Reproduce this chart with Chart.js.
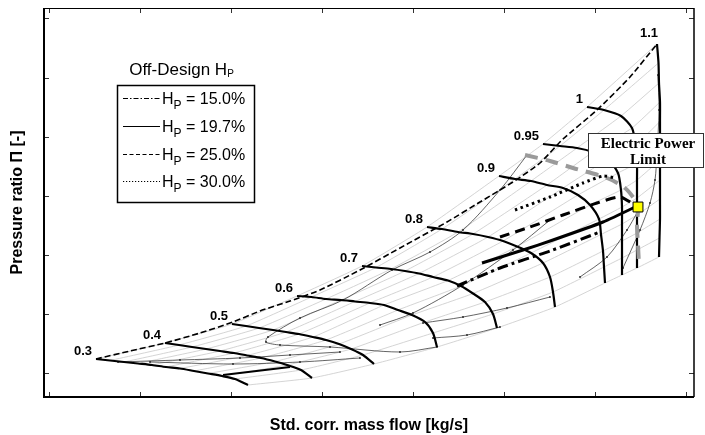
<!DOCTYPE html>
<html>
<head>
<meta charset="utf-8">
<script src="https://cdn.jsdelivr.net/npm/chart.js@4.4.1/dist/chart.umd.min.js"></script>
<style>
  html, body { margin: 0; padding: 0; background: #fff; }
  #wrap { width: 705px; height: 435px; }
</style>
</head>
<body>
<div id="wrap"><canvas id="mapa" width="705" height="435"></canvas></div>
<script>
const speedNames = ['0.3', '0.4', '0.5', '0.6', '0.7', '0.8', '0.9', '0.95', '1', '1.1'];

const speed_030 = [[0.52,1.38],[0.66,1.365],[0.80,1.35],[0.94,1.335],[1.08,1.32],[1.22,1.30],[1.36,1.285],[1.50,1.26],[1.64,1.235],[1.78,1.21],[1.91,1.18],[2.04,1.12]];
const speed_040 = [[1.21,1.54],[1.35,1.52],[1.48,1.50],[1.62,1.48],[1.76,1.46],[1.90,1.44],[2.03,1.415],[2.17,1.39],[2.31,1.355],[2.43,1.32],[2.57,1.27],[2.68,1.19]];
const speed_050 = [[1.88,1.73],[2.02,1.71],[2.15,1.69],[2.29,1.67],[2.42,1.65],[2.55,1.63],[2.69,1.60],[2.82,1.57],[2.95,1.53],[3.07,1.48],[3.19,1.42],[3.30,1.33]];
const speed_060 = [[2.53,2.01],[2.675,2.00],[2.82,1.98],[2.97,1.97],[3.11,1.955],[3.26,1.94],[3.40,1.92],[3.54,1.87],[3.68,1.82],[3.81,1.75],[3.89,1.64],[3.93,1.50]];
const speed_070 = [[3.18,2.31],[3.32,2.295],[3.47,2.28],[3.61,2.26],[3.75,2.235],[3.89,2.20],[4.04,2.165],[4.17,2.11],[4.29,2.035],[4.41,1.95],[4.49,1.83],[4.53,1.69]];
const speed_080 = [[3.83,2.70],[3.98,2.68],[4.14,2.65],[4.29,2.63],[4.44,2.60],[4.59,2.56],[4.73,2.505],[4.87,2.44],[4.99,2.34],[5.06,2.20],[5.09,2.05],[5.11,1.90]];
const speed_090 = [[4.55,3.21],[4.71,3.18],[4.87,3.16],[5.03,3.12],[5.19,3.09],[5.34,3.02],[5.46,2.92],[5.55,2.78],[5.57,2.625],[5.59,2.46],[5.60,2.30],[5.61,2.14]];
const speed_095 = [[4.99,3.53],[5.16,3.51],[5.33,3.49],[5.49,3.45],[5.64,3.38],[5.74,3.24],[5.77,3.07],[5.78,2.90],[5.78,2.73],[5.78,2.56],[5.78,2.39],[5.78,2.22]];
const speed_100 = [[5.43,3.90],[5.60,3.87],[5.77,3.81],[5.88,3.69],[5.915,3.52],[5.93,3.34],[5.93,3.17],[5.93,2.99],[5.93,2.82],[5.93,2.64],[5.93,2.47],[5.93,2.29]];
const speed_110 = [[6.13,4.53],[6.145,4.34],[6.15,4.14],[6.16,3.95],[6.16,3.755],[6.16,3.56],[6.16,3.37],[6.16,3.17],[6.16,2.98],[6.16,2.78],[6.155,2.59],[6.15,2.40]];
const speedLines = [speed_030, speed_040, speed_050, speed_060, speed_070, speed_080, speed_090, speed_095, speed_100, speed_110];

const surgeLine = [[0.52,1.38],[0.86,1.46],[1.21,1.54],[1.56,1.64],[1.89,1.75],[2.16,1.86],[2.46,1.96],[2.76,2.07],[3.16,2.27],[3.56,2.49],[4.03,2.75],[4.36,2.95],[4.69,3.15],[4.96,3.34],[5.19,3.58],[5.53,3.87],[5.86,4.20],[6.13,4.53]];
const lowSpeedStub = [[1.79,1.22],[2.46,1.30]];

const effLine1 = [[4.83,3.42],[4.56,3.07],[4.19,2.67],[3.86,2.45],[3.48,2.27],[2.99,1.97],[2.56,1.79],[2.24,1.60],[2.22,1.55],[2.36,1.52],[2.86,1.50],[3.56,1.45],[3.93,1.50]];
const effLine2 = [[5.06,2.77],[4.69,2.47],[4.19,2.12],[3.69,1.84],[3.36,1.72]];
const effLine3 = [[3.79,1.74],[4.19,1.80],[4.63,1.89],[5.06,2.00]];
const effLine4 = [[3.89,1.59],[4.23,1.62],[4.56,1.70]];
const effLine5 = [[5.79,2.29],[5.96,2.67],[6.06,2.94],[6.11,3.17],[6.13,3.44],[6.15,3.87],[6.14,4.22]];
const effLine6 = [[5.36,2.20],[5.63,2.40],[5.83,2.67],[5.93,2.84]];
const effLine7 = [[0.74,1.35],[1.36,1.37],[1.96,1.39],[2.46,1.42],[2.96,1.45]];
const effLine8 = [[1.06,1.35],[1.89,1.33],[2.56,1.35],[3.16,1.39]];
const effLines = [effLine1, effLine2, effLine3, effLine4, effLine5, effLine6, effLine7, effLine8];

const powerLimit = [[4.81,3.42],[5.06,3.36],[5.29,3.29],[5.63,3.19],[5.81,3.09],[5.91,2.97],[5.94,2.90],[5.93,2.72],[5.94,2.52],[5.95,2.32]];
const powerPoint = [[5.94,2.90]];

const hpLabels = ['15.0%', '19.7%', '25.0%', '30.0%'];
const hp150 = [[4.13,2.11],[4.56,2.29],[5.06,2.46],[5.56,2.65]];
const hp197 = [[4.38,2.34],[4.79,2.47],[5.09,2.57],[5.59,2.75],[5.89,2.89],[5.94,2.92]];
const hp250 = [[4.56,2.60],[4.86,2.70],[5.19,2.82],[5.53,2.94],[5.76,3.00],[5.91,2.92]];
const hp300 = [[4.71,2.87],[5.06,3.00],[5.39,3.14],[5.59,3.21],[5.71,3.19]];
const hpLines = [hp150, hp197, hp250, hp300];
const hpDashes = [[11, 4, 3, 4], [], [10, 6], [2.5, 3.5]];
const hpLegendDashes = [[5, 2, 1.5, 2], [], [4, 2.5], [1.2, 1.8]];

const xTickValues = [0.05, 0.96, 1.87, 2.78, 3.69, 4.60, 5.51, 6.42];
const yTickValues = [1.24, 1.83, 2.42, 3.01, 3.60, 4.19, 4.79];

// --- DATASETS ---
const toXY = pares => pares.map(p => ({ x: p[0], y: p[1] }));
const datasets = [];

for (let i = 0; i < speed_030.length; i++) {
  datasets.push({
    data: speedLines.map(s => ({ x: s[i][0], y: s[i][1] })),
    borderColor: '#c9c9c9', borderWidth: 0.8, pointRadius: 0, tension: 0.15, order: 20
  });
}
effLines.forEach(l => datasets.push({
  data: toXY(l), borderColor: '#222', borderWidth: 0.7, pointRadius: 0.9,
  pointBackgroundColor: '#222', pointBorderWidth: 0, tension: 0.3, order: 15
}));
speedLines.forEach(l => datasets.push({
  data: toXY(l), borderColor: '#000', borderWidth: 2.2, pointRadius: 0, tension: 0.25, order: 10
}));
datasets.push({ data: toXY(lowSpeedStub), borderColor: '#000', borderWidth: 2, pointRadius: 0, order: 10 });
datasets.push({ data: toXY(surgeLine), borderColor: '#000', borderWidth: 1.6, borderDash: [6, 3], pointRadius: 0, tension: 0.2, order: 9 });
datasets.push({ data: toXY(powerLimit), borderColor: '#9a9a9a', borderWidth: 4, borderDash: [13, 8], pointRadius: 0, tension: 0.3, order: 5 });
hpLines.forEach((l, k) => datasets.push({
  data: toXY(l), borderColor: '#000', borderWidth: 3, borderDash: hpDashes[k], borderCapStyle: 'butt',
  pointRadius: 0, tension: 0.2, order: 3
}));
datasets.push({
  data: toXY(powerPoint), showLine: false, pointStyle: 'rect', pointRadius: 7,
  pointBackgroundColor: '#ffff00', pointBorderColor: '#000', pointBorderWidth: 1, order: 0
});

// --- PLUGINS ---
const FONT = '"Liberation Sans", Arial, sans-serif';

const marcoPlugin = {
  id: 'marco',
  afterDatasetsDraw(chart) {
    const { ctx, chartArea: a, scales } = chart;
    ctx.save();
    ctx.strokeStyle = '#333';
    ctx.lineWidth = 1;
    xTickValues.forEach(v => {
      const px = Math.round(scales.x.getPixelForValue(v)) + 0.5;
      ctx.beginPath();
      ctx.moveTo(px, a.bottom); ctx.lineTo(px, a.bottom - 5);
      ctx.moveTo(px, a.top); ctx.lineTo(px, a.top + 5);
      ctx.stroke();
    });
    yTickValues.forEach(v => {
      const py = Math.round(scales.y.getPixelForValue(v)) + 0.5;
      ctx.beginPath();
      ctx.moveTo(a.left, py); ctx.lineTo(a.left + 5, py);
      ctx.moveTo(a.right, py); ctx.lineTo(a.right - 5, py);
      ctx.stroke();
    });
    ctx.strokeStyle = '#000';
    ctx.lineWidth = 1;
    ctx.beginPath();
    ctx.moveTo(a.left, a.top + 0.5); ctx.lineTo(a.right, a.top + 0.5);
    ctx.stroke();
    ctx.lineWidth = 1.5;
    ctx.beginPath();
    ctx.moveTo(a.right, a.top); ctx.lineTo(a.right, a.bottom);
    ctx.stroke();
    ctx.lineWidth = 2;
    ctx.beginPath();
    ctx.moveTo(a.left, a.top); ctx.lineTo(a.left, a.bottom); ctx.lineTo(a.right, a.bottom);
    ctx.stroke();

    // etiquetas de velocidad
    ctx.fillStyle = '#000';
    ctx.font = 'bold 13px ' + FONT;
    ctx.textAlign = 'right';
    ctx.textBaseline = 'alphabetic';
    speedLines.forEach((l, k) => {
      const px = scales.x.getPixelForValue(l[0][0]);
      const py = scales.y.getPixelForValue(l[0][1]);
      if (speedNames[k] === '1.1') ctx.fillText(speedNames[k], px + 1, py - 7);
      else ctx.fillText(speedNames[k], px - 4, py - 4);
    });
    ctx.restore();
  }
};

function drawHP(ctx, x, base, big, small, drop, rest) {
  ctx.font = big + 'px ' + FONT;
  ctx.fillText('H', x, base);
  x += ctx.measureText('H').width;
  ctx.font = small + 'px ' + FONT;
  ctx.fillText('P', x, base + drop);
  x += ctx.measureText('P').width;
  if (rest) {
    ctx.font = big + 'px ' + FONT;
    ctx.fillText(rest, x, base);
  }
}

const cajasPlugin = {
  id: 'cajas',
  afterDraw(chart) {
    const { ctx } = chart;
    ctx.save();
    ctx.fillStyle = '#000';
    ctx.textAlign = 'left';
    ctx.textBaseline = 'alphabetic';

    // leyenda
    ctx.font = '17px ' + FONT;
    const t1 = 'Off-Design ';
    const w1 = ctx.measureText(t1 + 'H').width;
    ctx.font = '10px ' + FONT;
    const w2 = ctx.measureText('P').width;
    let x0 = 181.5 - (w1 + w2) / 2;
    ctx.font = '17px ' + FONT;
    ctx.fillText(t1, x0, 75);
    drawHP(ctx, x0 + ctx.measureText(t1).width, 75, 17, 10, 2, '');

    ctx.fillStyle = '#fff';
    ctx.fillRect(117, 85, 137, 117);
    ctx.strokeStyle = '#000';
    ctx.lineWidth = 1.5;
    ctx.strokeRect(117.5, 85.5, 137, 117);

    const rows = [104, 132, 160, 187];
    hpLabels.forEach((lab, k) => {
      const y = rows[k];
      ctx.strokeStyle = '#000';
      ctx.lineWidth = 1.2;
      ctx.setLineDash(hpLegendDashes[k]);
      ctx.beginPath();
      ctx.moveTo(123, y - 5.5); ctx.lineTo(160, y - 5.5);
      ctx.stroke();
      ctx.setLineDash([]);
      ctx.fillStyle = '#000';
      drawHP(ctx, 162, y, 16, 12, 5, ' = ' + lab);
    });

    // caja "Electric Power Limit"
    ctx.fillStyle = '#fff';
    ctx.fillRect(588, 133, 115, 34);
    ctx.strokeStyle = '#333';
    ctx.lineWidth = 1;
    ctx.strokeRect(588.5, 133.5, 115, 34);
    ctx.fillStyle = '#000';
    ctx.textAlign = 'center';
    ctx.font = 'bold 15px "Liberation Serif", "Times New Roman", serif';
    ctx.fillText('Electric Power', 648, 148);
    ctx.fillText('Limit', 648, 164);
    ctx.restore();
  }
};

// --- GRÁFICO ---
new Chart(document.getElementById('mapa'), {
  type: 'line',
  data: { datasets: datasets },
  options: {
    responsive: false,
    animation: false,
    devicePixelRatio: 1,
    parsing: true,
    layout: { padding: { top: 8, right: 11, left: 0, bottom: 0 } },
    plugins: { legend: { display: false }, tooltip: { enabled: false } },
    scales: {
      x: {
        type: 'linear', min: 0, max: 6.5,
        grid: { display: false }, border: { display: false },
        ticks: { display: false },
        title: {
          display: true, text: 'Std. corr. mass flow [kg/s]', color: '#000',
          font: { family: FONT, size: 16, weight: 'bold' }, padding: { top: 0, bottom: 0 }
        },
        afterFit(s) { s.height = 38; }
      },
      y: {
        type: 'linear', min: 1.0, max: 4.89,
        grid: { display: false }, border: { display: false },
        ticks: { display: false },
        title: {
          display: true, text: 'Pressure ratio \u03A0 [-]', color: '#000',
          font: { family: FONT, size: 16, weight: 'bold' }, padding: { top: 8, bottom: 0 }
        },
        afterFit(s) { s.width = 44; }
      }
    }
  },
  plugins: [marcoPlugin, cajasPlugin]
});
</script>
</body>
</html>
